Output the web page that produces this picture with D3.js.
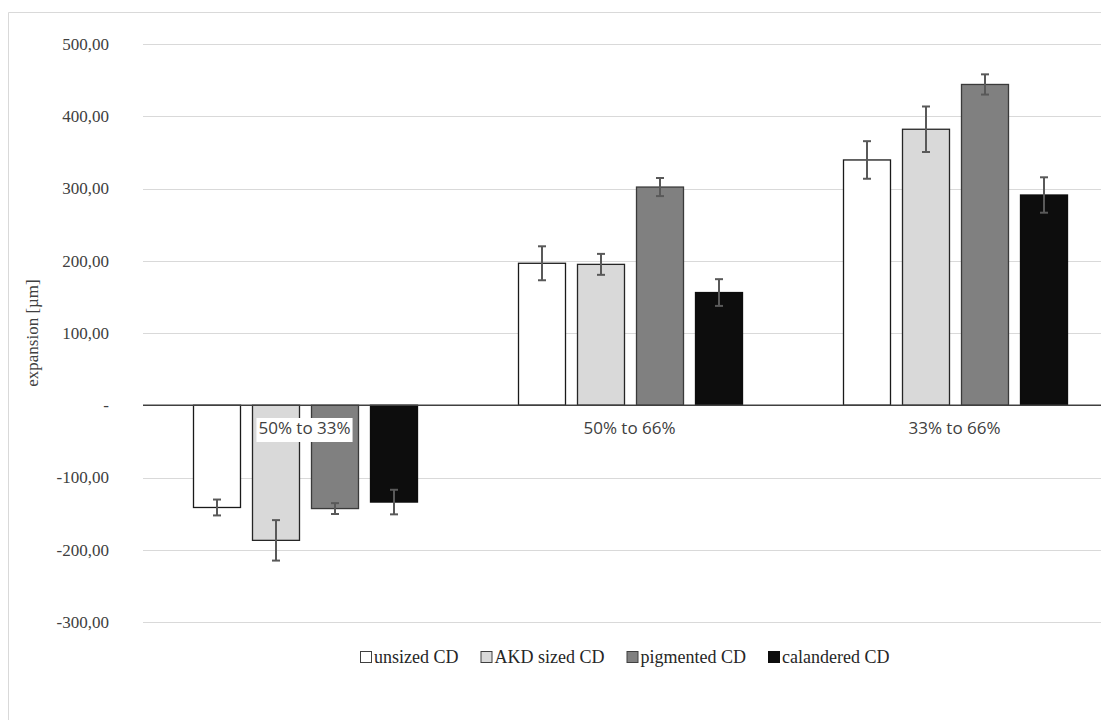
<!DOCTYPE html>
<html><head><meta charset="utf-8">
<script src="https://cdn.jsdelivr.net/npm/d3@7"></script>
<style>body{margin:0;background:#fff}svg{display:block}
.serif{font-family:"Liberation Serif","DejaVu Serif","Times New Roman",serif}
.sans{font-family:"Open Sans","Noto Sans",sans-serif}</style>
</head><body>
<svg id="c" width="1101" height="720"></svg>
<script>
const categories = ["50% to 33%", "50% to 66%", "33% to 66%"];
const seriesNames = ["unsized CD", "AKD sized CD", "pigmented CD", "calandered CD"];
const unsized = [-141.5, 196.5, 339.5];
const akdSized = [-187, 195, 382];
const pigmented = [-143, 302, 444];
const calandered = [-134, 156, 291];
const errUnsized = [11, 23.5, 26];
const errAkd = [28, 14.5, 31.5];
const errPigmented = [7.5, 12.5, 14];
const errCalandered = [17, 18.5, 24.5];
const yTicks = [-300, -200, -100, 0, 100, 200, 300, 400, 500];

const values = [unsized, akdSized, pigmented, calandered];
const errors = [errUnsized, errAkd, errPigmented, errCalandered];
const fills = ["#ffffff", "#d9d9d9", "#808080", "#0d0d0d"];
const strokes = ["#1a1a1a", "#262626", "#3a3a3a", "#0d0d0d"];

const svg = d3.select("#c");
const W = 1101, H = 720;

svg.append("path").attr("d", `M8.5,${H} V12.5 H${W}`)
  .attr("fill", "none").attr("stroke", "#d9d9d9");

const y = d3.scaleLinear().domain([-300, 500]).range([622, 44]);
const x0 = d3.scaleBand().domain(categories).range([142, 1117]);
const x1 = d3.scaleBand().domain(d3.range(seriesNames.length))
  .range([45, 281]).paddingInner(12/59).paddingOuter(6/59);

const fmt = v => v === 0 ? "-" : d3.format(".2f")(v).replace(".", ",").replace("−", "-");

svg.append("g").selectAll("line").data(yTicks.filter(t => t !== 0)).join("line")
  .attr("x1", 143).attr("x2", W)
  .attr("y1", d => Math.round(y(d)) + 0.5).attr("y2", d => Math.round(y(d)) + 0.5)
  .attr("stroke", "#d9d9d9").attr("stroke-width", 1);

const yAxis = d3.axisLeft(y).tickValues(yTicks).tickFormat(fmt).tickSize(0).tickPadding(0);
const gy = svg.append("g").attr("transform", "translate(109,0)").call(yAxis)
  .attr("font-family", null).attr("font-size", null);
gy.select(".domain").remove();
gy.selectAll("text").attr("class", "serif").style("font-size", "17px").attr("fill", "#404040");

svg.append("text").attr("class", "serif").attr("transform", "translate(38,333) rotate(-90)")
  .attr("text-anchor", "middle").style("font-size", "17px").attr("fill", "#404040").text("expansion [µm]");

const groups = svg.append("g").selectAll("g").data(categories).join("g")
  .attr("transform", d => `translate(${x0(d)},0)`);
groups.each(function(cat, ci) {
  const g = d3.select(this);
  seriesNames.forEach((s, si) => {
    const v = values[si][ci];
    const bx = Math.round(x1(si)) + 0.5;
    const bw = Math.round(x1.bandwidth());
    g.append("rect")
      .attr("x", bx).attr("width", bw)
      .attr("y", Math.min(y(0), y(v))).attr("height", Math.abs(y(v) - y(0)))
      .attr("fill", fills[si]).attr("stroke", strokes[si]).attr("stroke-width", 1.3);
  });
});

svg.append("line").attr("x1", 143).attr("x2", W)
  .attr("y1", y(0)).attr("y2", y(0)).attr("stroke", "#404040").attr("stroke-width", 1.3);

groups.each(function(cat, ci) {
  const g = d3.select(this);
  seriesNames.forEach((s, si) => {
    const v = values[si][ci], e = errors[si][ci];
    const cx = x1(si) + x1.bandwidth() / 2 + 0.5;
    const c = "#595959";
    g.append("line").attr("x1", cx).attr("x2", cx).attr("y1", y(v - e)).attr("y2", y(v + e))
      .attr("stroke", c).attr("stroke-width", 2);
    [v - e, v + e].forEach(t => g.append("line")
      .attr("x1", cx - 4).attr("x2", cx + 4).attr("y1", y(t)).attr("y2", y(t))
      .attr("stroke", c).attr("stroke-width", 2));
  });
});

groups.each(function(cat) {
  const g = d3.select(this);
  const cx = x0.bandwidth() / 2;
  const t = g.append("text").attr("class", "sans").attr("x", cx).attr("y", 434)
    .attr("text-anchor", "middle").style("font-size", "17px").attr("fill", "#404040").text(cat);
  const bb = t.node().getBBox();
  g.insert("rect", "text").attr("x", bb.x - 2).attr("y", 418).attr("width", bb.width + 4)
    .attr("height", 24).attr("fill", "#fff");
});

const lg = svg.append("g");
let lx = 0;
seriesNames.forEach((s, si) => {
  const it = lg.append("g").attr("transform", `translate(${lx},0)`);
  it.append("rect").attr("x", 0.5).attr("y", -11.5).attr("width", 11).attr("height", 11)
    .attr("fill", fills[si]).attr("stroke", si === 3 ? "#0d0d0d" : "#404040");
  const t = it.append("text").attr("class", "serif").attr("x", 14).attr("y", 0)
    .style("font-size", "18px").attr("fill", "#262626").text(s);
  lx += 14 + t.node().getComputedTextLength() + 22;
});
lx -= 22;
lg.attr("transform", `translate(${Math.round(625 - lx / 2)},663)`);
</script>
</body></html>
